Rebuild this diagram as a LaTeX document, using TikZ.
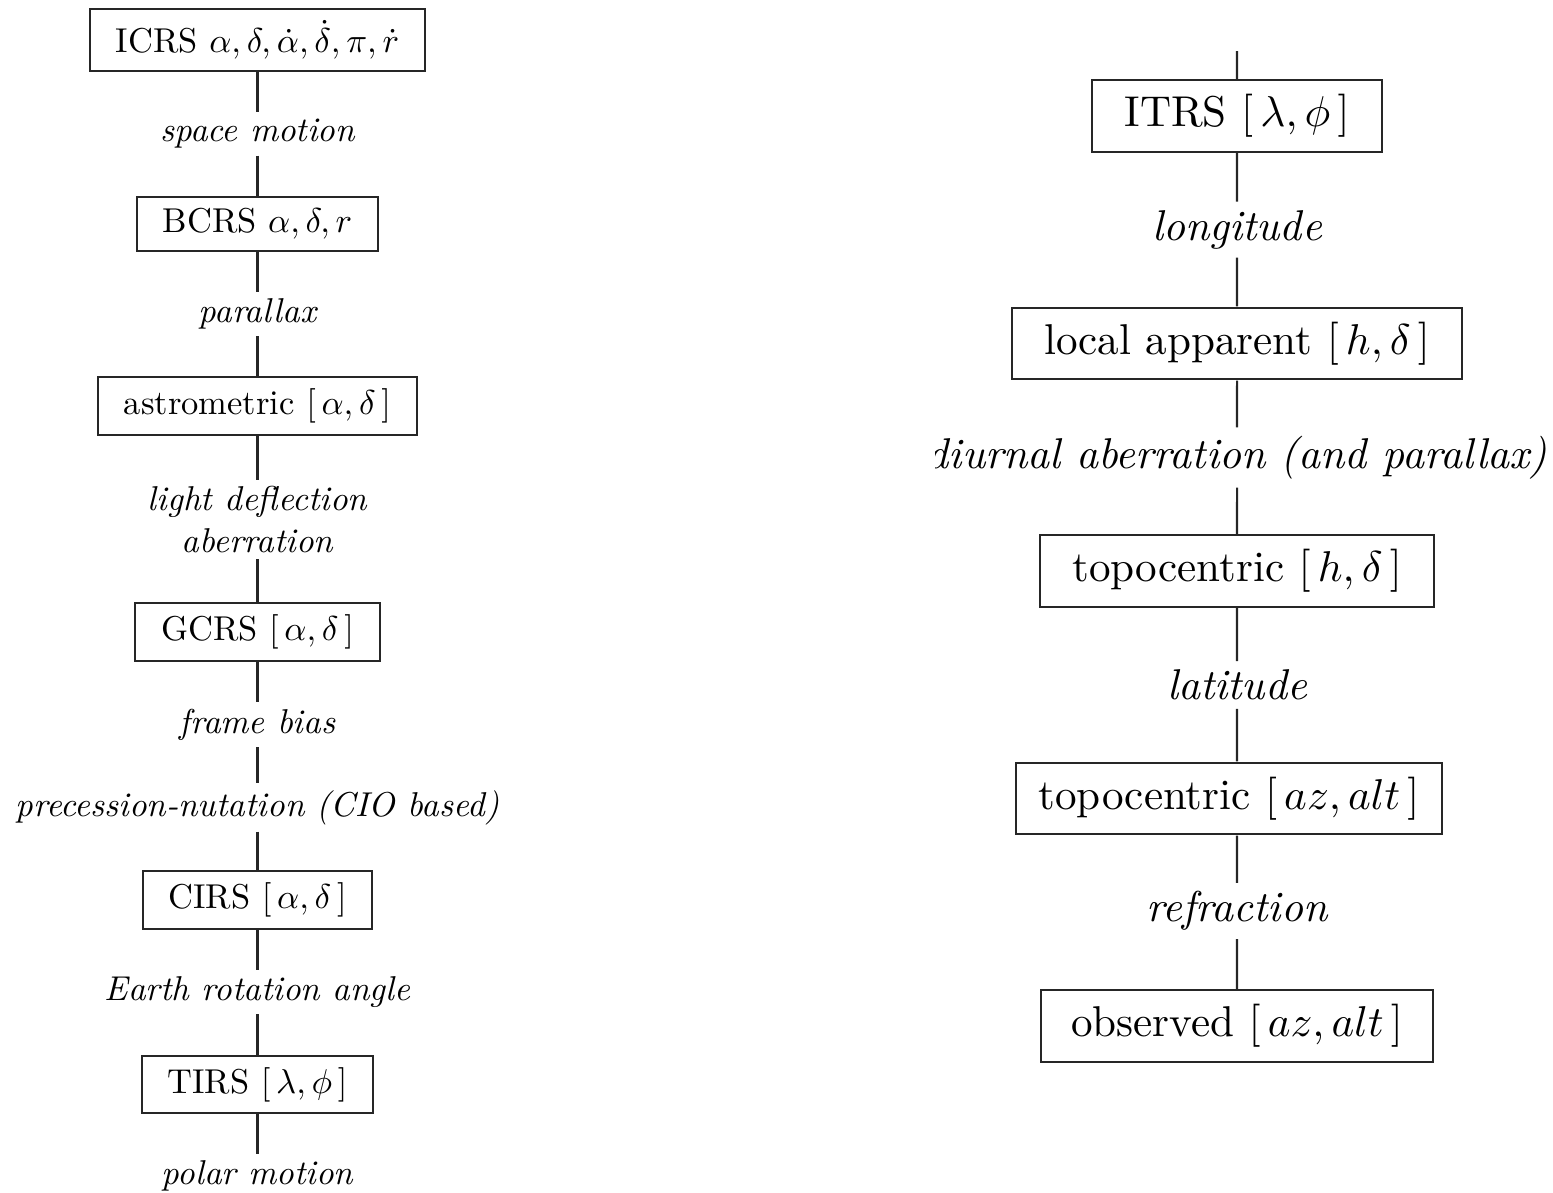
\documentclass[tikz,border=0pt]{standalone}
\begin{document}
\begin{tikzpicture}[x=0.29pt,y=-0.29pt,
  box/.style={draw=black!85, line width=0.6pt, inner xsep=7.5pt, inner ysep=3.33pt},
  lab/.style={font=\itshape, inner sep=1.8pt},
  conn/.style={draw=black!85, line width=0.6pt},
  big/.style={scale=1.25}]
\useasboundingbox (0,0) rectangle (1553,1193);
% ---------------- left column ----------------
\node[box] (icrs) at (257.5,40) {ICRS $\alpha,\delta,\dot\alpha,\dot\delta,\pi,\dot r$};
\node[lab] (l1) at (257.5,134) {space motion};
\node[box] (bcrs) at (257.5,224) {BCRS $\alpha,\delta,r$};
\node[lab] (l2) at (257.5,314) {parallax};
\node[box] (astr) at (257.5,406) {astrometric $[\,\alpha,\delta\,]$};
\node[lab, align=center] (l3) at (257.5,519.5) {light deflection\\aberration};
\node[box] (gcrs) at (257.5,632) {GCRS $[\,\alpha,\delta\,]$};
\node[lab] (l4) at (257.5,724.5) {frame bias};
\node[lab] (l5) at (257.5,807.5) {precession-nutation (CIO based)};
\node[box] (cirs) at (257.5,900) {CIRS $[\,\alpha,\delta\,]$};
\node[lab] (l6) at (257.5,992) {Earth rotation angle};
\node[box] (tirs) at (257.5,1084.5) {TIRS $[\,\lambda,\phi\,]$};
\node[lab] (l7) at (257.5,1176) {polar motion};
\draw[conn] (icrs) -- (l1);
\draw[conn] (l1) -- (bcrs);
\draw[conn] (bcrs) -- (l2);
\draw[conn] (l2) -- (astr);
\draw[conn] (astr) -- (l3);
\draw[conn] (l3) -- (gcrs);
\draw[conn] (gcrs) -- (l4);
\draw[conn] (l4) -- (l5);
\draw[conn] (l5) -- (cirs);
\draw[conn] (cirs) -- (l6);
\draw[conn] (l6) -- (tirs);
\draw[conn] (tirs) -- (l7);
% ---------------- right column ----------------
\begin{scope}
\clip (935,0) rectangle (1553,1193);
\coordinate (rtop) at (1237,51);
\node[box,big] (itrs) at (1237,116) {ITRS $[\,\lambda,\phi\,]$};
\node[lab,big] (r1) at (1237,229.5) {longitude};
\node[box,big] (lapp) at (1237,343.5) {local apparent $[\,h,\delta\,]$};
\node[lab,big] (r2) at (1237,457.5) {diurnal aberration (and parallax)};
\node[box,big] (toph) at (1237,571) {topocentric $[\,h,\delta\,]$};
\node[lab,big] (r3) at (1237,685) {latitude};
\node[box,big,inner xsep=5.3pt] (topaz) at (1229,798.5) {topocentric $[\,az,alt\,]$};
\node[lab,big] (r4) at (1237,911) {refraction};
\node[box,big,inner xsep=7pt] (obs) at (1237,1026) {observed $[\,az,alt\,]$};
\draw[conn] (rtop) -- (itrs);
\draw[conn] (itrs) -- (r1);
\draw[conn] (r1) -- (lapp);
\draw[conn] (lapp) -- (r2);
\draw[conn] (r2) -- (toph);
\draw[conn] (toph) -- (r3);
\draw[conn] (r3) -- (r3 |- topaz.north);
\draw[conn] (r4 |- topaz.south) -- (r4);
\draw[conn] (r4) -- (obs);
\end{scope}
\end{tikzpicture}
\end{document}
